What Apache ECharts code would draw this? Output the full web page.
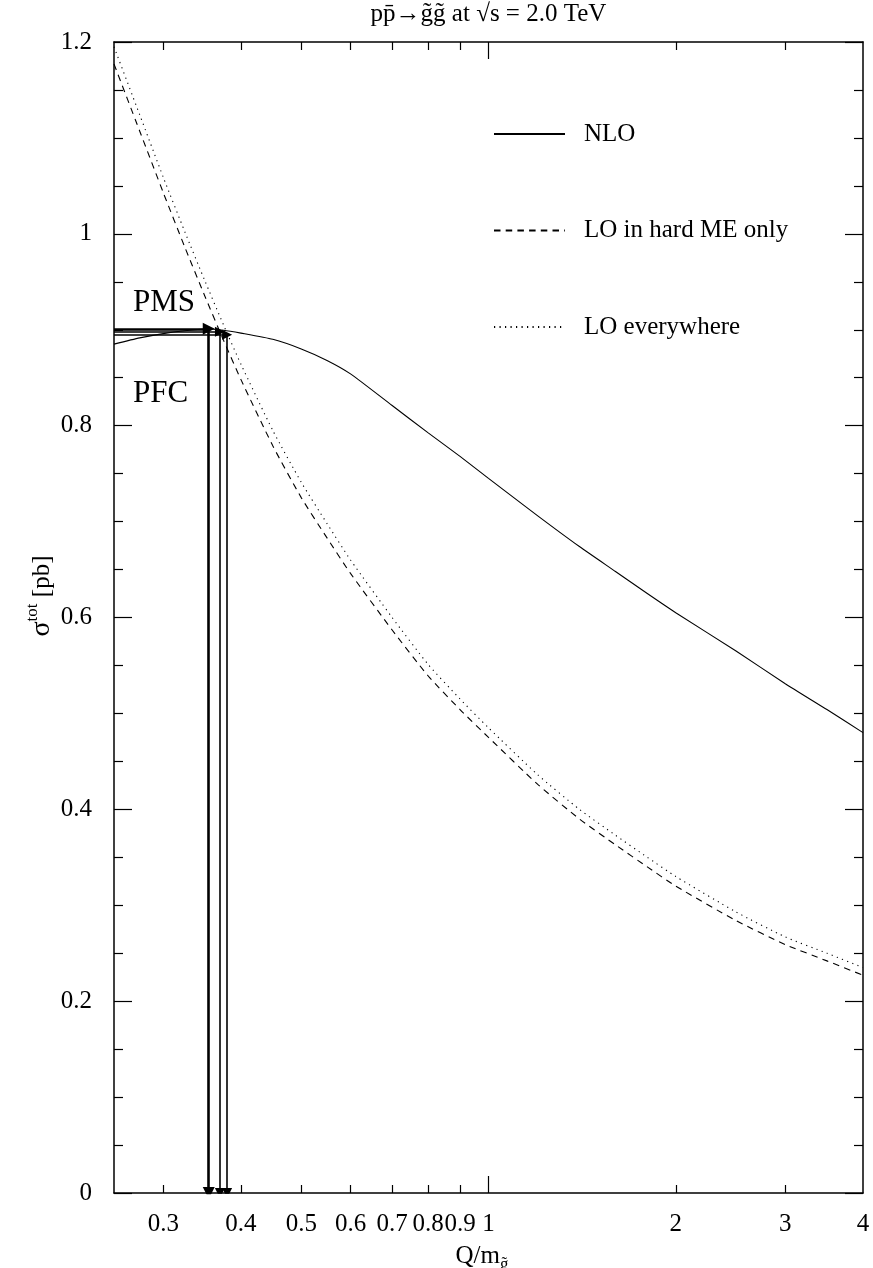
<!DOCTYPE html>
<html>
<head>
<meta charset="utf-8">
<script src="https://cdn.jsdelivr.net/npm/echarts@6/dist/echarts.min.js"></script>
<style>
  html, body { margin: 0; padding: 0; background: #ffffff; }
  #chart { width: 873px; height: 1268px; }
</style>
</head>
<body>
<div id="chart"></div>
<script>
// Renormalisation / factorisation scale in units of the gluino mass
const scaleRatio = [0.25, 0.275, 0.3, 0.325, 0.35, 0.375, 0.4, 0.45, 0.5, 0.55, 0.6, 0.7, 0.8, 0.9, 1.0, 1.2, 1.4, 1.6, 1.8, 2.0, 2.5, 3.0, 3.5, 4.0];
// Total cross sections [pb]
const sigmaNLO = [0.885, 0.8915, 0.896, 0.899, 0.9008, 0.8995, 0.8965, 0.890, 0.880, 0.868, 0.854, 0.821, 0.7925, 0.768, 0.745, 0.706, 0.674, 0.648, 0.625, 0.605, 0.565, 0.531, 0.504, 0.480];
const sigmaLOHardME = [1.177, 1.107, 1.043, 0.986, 0.935, 0.889, 0.848, 0.779, 0.725, 0.683, 0.646, 0.587, 0.539, 0.504, 0.475, 0.426, 0.390, 0.363, 0.340, 0.320, 0.284, 0.259, 0.242, 0.227];
const sigmaLOEverywhere = [1.195, 1.124, 1.059, 1.002, 0.951, 0.905, 0.864, 0.795, 0.741, 0.698, 0.660, 0.600, 0.551, 0.515, 0.485, 0.436, 0.400, 0.373, 0.350, 0.330, 0.293, 0.267, 0.250, 0.235];

// Scale choices: principle of minimal sensitivity and of fastest convergence
const pmsPoint = [0.355, 0.901];
const pfcPoints = [[0.370, 0.898], [0.380, 0.8947]];

// Axis ticks and labels
const xLabelValues = [0.3, 0.4, 0.5, 0.6, 0.7, 0.8, 0.9, 1, 2, 3, 4];
const xShortTicks = [0.3, 0.4, 0.5, 0.6, 0.7, 0.8, 0.9, 2, 3];
const xLongTicks = [1];
const yLabelValues = [0, 0.2, 0.4, 0.6, 0.8, 1, 1.2];

const seriesNames = ['NLO', 'LO in hard ME only', 'LO everywhere'];

const SERIF = '"Liberation Serif", "DejaVu Serif", serif';
const BLACK = '#000000';
const X_MIN = 0.25, X_MAX = 4;

const pairs = (xs, ys) => xs.map((x, i) => [x, ys[i]]);

function xAxisDef(position, tickValues, tickLen, withLine, withLabels) {
  return {
    type: 'log', logBase: 10, min: X_MIN, max: X_MAX, position: position,
    axisLine: { show: withLine, onZero: false, lineStyle: { color: BLACK, width: 1.5 } },
    axisTick: { show: true, inside: true, length: tickLen, customValues: tickValues,
                lineStyle: { color: BLACK, width: 1.2 } },
    minorTick: { show: false },
    axisLabel: withLabels ? {
      show: true, customValues: xLabelValues, margin: 19, color: BLACK,
      fontFamily: SERIF, fontSize: 25, hideOverlap: false,
      showMinLabel: true, showMaxLabel: true,
      formatter: v => String(+v.toFixed(2))
    } : { show: false },
    splitLine: { show: false },
    minorSplitLine: { show: false }
  };
}

function yAxisDef(position, withLabels) {
  return {
    type: 'value', min: 0, max: 1.2, interval: 0.2, position: position,
    axisLine: { show: true, onZero: false, lineStyle: { color: BLACK, width: 1.5 } },
    axisTick: { show: true, inside: true, length: 18, lineStyle: { color: BLACK, width: 1.2 } },
    minorTick: { show: true, splitNumber: 4, length: 9, lineStyle: { color: BLACK, width: 1.2 } },
    axisLabel: withLabels ? {
      show: true, customValues: yLabelValues, margin: 22, color: BLACK,
      fontFamily: SERIF, fontSize: 25,
      formatter: v => String(+(+v).toFixed(2))
    } : { show: false },
    splitLine: { show: false },
    minorSplitLine: { show: false }
  };
}

function curve(name, ys, dash) {
  return {
    name: name, type: 'line', xAxisIndex: 0, yAxisIndex: 0,
    data: pairs(scaleRatio, ys),
    symbol: 'none', showSymbol: false, smooth: 0.2, silent: true,
    lineStyle: { color: BLACK, width: 1.1, type: dash },
    itemStyle: { color: BLACK, opacity: 0 },
    z: 2
  };
}

// L-shaped arrow: from the left frame to the chosen scale, then down to the Q axis
function arrowSeries(point, width, headSize) {
  const [q, s] = point;
  return {
    type: 'lines', coordinateSystem: 'cartesian2d', xAxisIndex: 0, yAxisIndex: 0,
    polyline: false, silent: true, z: 4,
    symbol: ['none', 'triangle'], symbolSize: headSize,
    lineStyle: { color: BLACK, width: width, opacity: 1, curveness: 0 },
    itemStyle: { color: BLACK },
    data: [
      { coords: [[X_MIN, s], [q, s]] },
      { coords: [[q, s], [q, 0]] }
    ]
  };
}

const chart = echarts.init(document.getElementById('chart'), null, { renderer: 'canvas' });

chart.setOption({
  animation: false,
  backgroundColor: '#ffffff',
  grid: { left: 114, right: 10, top: 42, bottom: 75, containLabel: false, outerBoundsMode: 'none' },
  xAxis: [
    xAxisDef('bottom', xShortTicks, 8, true, true),
    xAxisDef('bottom', xLongTicks, 17, false, false),
    xAxisDef('top', xShortTicks, 8, true, false),
    xAxisDef('top', xLongTicks, 17, false, false)
  ],
  yAxis: [yAxisDef('left', true), yAxisDef('right', false)],
  legend: {
    data: seriesNames,
    orient: 'vertical', left: 488, top: 116.5,
    itemWidth: 71, itemHeight: 25, itemGap: 71.5,
    selectedMode: false,
    itemStyle: { opacity: 0 },
    textStyle: { fontFamily: SERIF, fontSize: 25, color: BLACK, padding: [0, 0, 0, 14] }
  },
  series: [
    curve(seriesNames[0], sigmaNLO, 'solid'),
    curve(seriesNames[1], sigmaLOHardME, [6.5, 5.2]),
    curve(seriesNames[2], sigmaLOEverywhere, [1.2, 4.3]),
    arrowSeries(pmsPoint, 2.6, 12),
    arrowSeries(pfcPoints[0], 1.6, 10),
    arrowSeries(pfcPoints[1], 1.6, 10)
  ],
  graphic: [
    {
      type: 'text', x: 488.5, y: 14, silent: true,
      style: {
        text: 'pp\u0304\u2192g\u0303g\u0303 at \u221As = 2.0 TeV',
        fontFamily: SERIF, fontSize: 25, fill: BLACK,
        align: 'center', verticalAlign: 'middle'
      }
    },
    {
      type: 'text', x: 133, y: 302.5, silent: true,
      style: { text: 'PMS', fontFamily: SERIF, fontSize: 31, fill: BLACK, align: 'left', verticalAlign: 'middle' }
    },
    {
      type: 'text', x: 133, y: 393.5, silent: true,
      style: { text: 'PFC', fontFamily: SERIF, fontSize: 31, fill: BLACK, align: 'left', verticalAlign: 'middle' }
    },
    {
      type: 'text', x: 482, y: 1256, silent: true,
      style: {
        text: '{m|Q/m}{s|g\u0303}',
        align: 'center', verticalAlign: 'middle', fill: BLACK,
        rich: {
          m: { fontFamily: SERIF, fontSize: 25, lineHeight: 34, fill: BLACK },
          s: { fontFamily: SERIF, fontSize: 17, lineHeight: 18, fill: BLACK, verticalAlign: 'bottom' }
        }
      }
    },
    {
      type: 'text', x: 42, y: 596, rotation: Math.PI / 2, silent: true,
      style: {
        text: '{g|\u03C3}{t|tot}{b| [pb]}',
        align: 'center', verticalAlign: 'middle', fill: BLACK,
        rich: {
          g: { fontFamily: SERIF, fontSize: 28, lineHeight: 36, fill: BLACK },
          t: { fontFamily: SERIF, fontSize: 17, lineHeight: 16, fill: BLACK, verticalAlign: 'top' },
          b: { fontFamily: SERIF, fontSize: 25, lineHeight: 36, fill: BLACK }
        }
      }
    }
  ]
});
</script>
</body>
</html>
